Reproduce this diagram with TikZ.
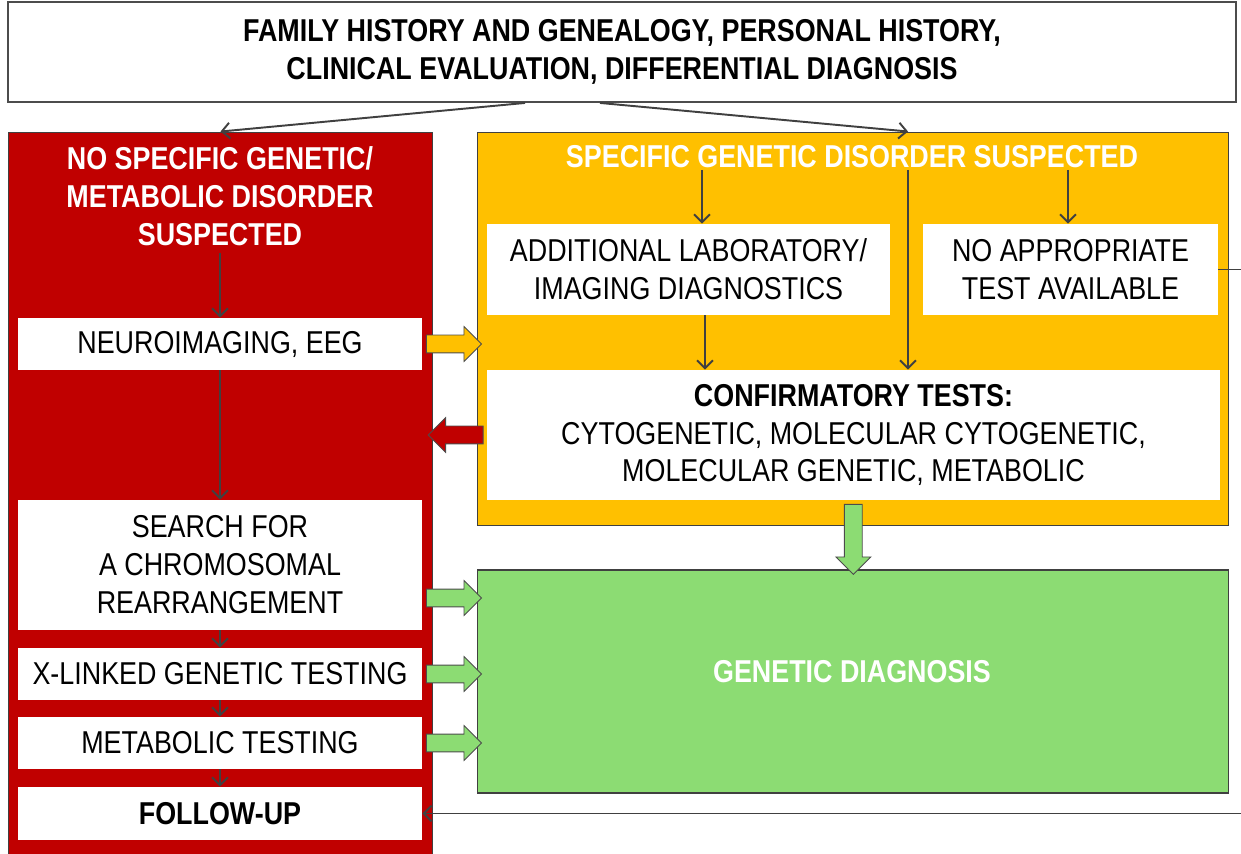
\documentclass[tikz,border=0pt]{standalone}
\usepackage{fontspec}
\setmainfont{Liberation Sans}[FakeStretch=0.85]
\usetikzlibrary{calc, shapes.arrows, arrows.meta}

\definecolor{boxred}{RGB}{192,0,0}
\definecolor{boxyellow}{RGB}{255,192,0}
\definecolor{boxgreen}{RGB}{140,220,115}
\definecolor{linegray}{RGB}{64,64,64}

\begin{document}
\begin{tikzpicture}[x = 0.02cm, y = -0.02cm,
    font = \fontsize{18}{21.6}\selectfont,
    bigbox/.style = {draw = black!75, line width = 0.6pt, inner sep = 0pt},
    whitebox/.style = {fill = white, align = center, inner sep = 0pt},
    flow/.style = {-{Straight Barb[length = 4.5pt, width = 9pt]}, draw = linegray, line width = 1.1pt},
    blockarrow/.style = {shape = single arrow, draw = black!70, line width = 0.5pt,
        inner xsep = 0pt, inner ysep = 0.17cm, single arrow head extend = 0.17cm,
        minimum height = 1.1cm}]
        \useasboundingbox (0,0) rectangle (1241,854);

        % outer boxes
        \node [bigbox, draw = black!70, line width = 1.1pt, fill = white, align = center,
            minimum width = 24.56cm, minimum height = 2.0cm,
            font = \fontsize{18}{21.6}\selectfont\bfseries] (top) at (622,52)
            {FAMILY HISTORY AND GENEALOGY, PERSONAL HISTORY,\\CLINICAL EVALUATION, DIFFERENTIAL DIAGNOSIS};
        \node [bigbox, fill = boxred, minimum width = 8.5cm, minimum height = 14.76cm] (red) at (220.5,501) {};
        \node [bigbox, fill = boxyellow, minimum width = 15.04cm, minimum height = 7.88cm] (yel) at (853,329) {};
        \node [bigbox, fill = boxgreen, minimum width = 15.04cm, minimum height = 4.46cm] (green) at (853,681.5) {};

        % titles
        \node [align = center, text = white, inner sep = 4pt, font = \fontsize{18}{21.6}\selectfont\bfseries] (redtitle) at (220,196)
            {NO SPECIFIC GENETIC/\\METABOLIC DISORDER\\SUSPECTED};
        \node [text = white, font = \fontsize{18}{21.6}\selectfont\bfseries] (yeltitle) at (852,157)
            {SPECIFIC GENETIC DISORDER SUSPECTED};
        \node [text = white, font = \fontsize{18}{21.6}\selectfont\bfseries] (diag) at (852,672)
            {GENETIC DIAGNOSIS};

        % left column
        \node [whitebox, minimum width = 8.08cm, minimum height = 1.04cm] (neuro) at (220,344) {NEUROIMAGING, EEG};
        \node [whitebox, minimum width = 8.08cm, minimum height = 2.6cm] (search) at (220,565)
            {SEARCH FOR\\A CHROMOSOMAL\\REARRANGEMENT};
        \node [whitebox, minimum width = 8.08cm, minimum height = 1.04cm] (xlinked) at (220,674) {X-LINKED GENETIC TESTING};
        \node [whitebox, minimum width = 8.08cm, minimum height = 1.04cm] (metab) at (220,743) {METABOLIC TESTING};
        \node [whitebox, minimum width = 8.08cm, minimum height = 1.06cm,
            font = \fontsize{18}{21.6}\selectfont\bfseries] (follow) at (220,813.5) {FOLLOW-UP};

        % right column
        \node [whitebox, minimum width = 8.06cm, minimum height = 1.82cm] (addl) at (688.5,269.5)
            {ADDITIONAL LABORATORY/\\IMAGING DIAGNOSTICS};
        \node [whitebox, minimum width = 5.9cm, minimum height = 1.82cm] (noapp) at (1070.5,269.5)
            {NO APPROPRIATE\\TEST AVAILABLE};
        \node [whitebox, minimum width = 14.66cm, minimum height = 2.6cm] (confirm) at (853.5,435)
            {\textbf{CONFIRMATORY TESTS:}\\CYTOGENETIC, MOLECULAR CYTOGENETIC,\\MOLECULAR GENETIC, METABOLIC};

        \coordinate (t1) at (702,170);
        \coordinate (split) at (908,170);
        \coordinate (t2) at (1068,170);

        % thin arrows
        \draw [flow] ([xshift = -1.94cm]top.south) -- (red.north);
        \draw [flow] ([xshift = -0.44cm]top.south) -- (split |- yel.north);
        \draw [flow] (t1) -- (t1 |- addl.north);
        \draw [flow] (t2) -- (t2 |- noapp.north);
        \draw [flow] (split) -- (split |- confirm.north);
        \draw [flow] ([xshift = 0.33cm]addl.south) -- ([xshift = 0.33cm]addl.south |- confirm.north);
        \draw [flow] (redtitle.south) -- (neuro.north);
        \draw [flow] (neuro.south) -- (search.north);
        \draw [flow] (search.south) -- (xlinked.north);
        \draw [flow] (xlinked.south) -- (metab.north);
        \draw [flow] (metab.south) -- (follow.north);
        \draw [flow] (noapp.east) -- ++(40,0) |- (follow.east);

        % block arrows
        \node [blockarrow, fill = boxyellow] (yarrow) at ($(neuro.east)!0.5!(neuro.east -| yel.west)$) {};
        \node [blockarrow, fill = boxred, shape border rotate = 180] (rarrow)
            at ($(confirm.west)!0.5!(confirm.west -| red.east)$) {};
        \node [blockarrow, fill = boxgreen] (garrow1) at (449.5,598) {};
        \node [blockarrow, fill = boxgreen] (garrow2) at ($(xlinked.east)!0.5!(xlinked.east -| green.west)$) {};
        \node [blockarrow, fill = boxgreen] (garrow3) at ($(metab.east)!0.5!(metab.east -| green.west)$) {};
        \node [blockarrow, fill = boxgreen, inner xsep = 0.17cm, inner ysep = 0pt,
            minimum height = 1.4cm, shape border rotate = 270] (garrow4)
            at ($(confirm.south)!0.5!(green.north)$) {};
    \end{tikzpicture}
\end{document}
